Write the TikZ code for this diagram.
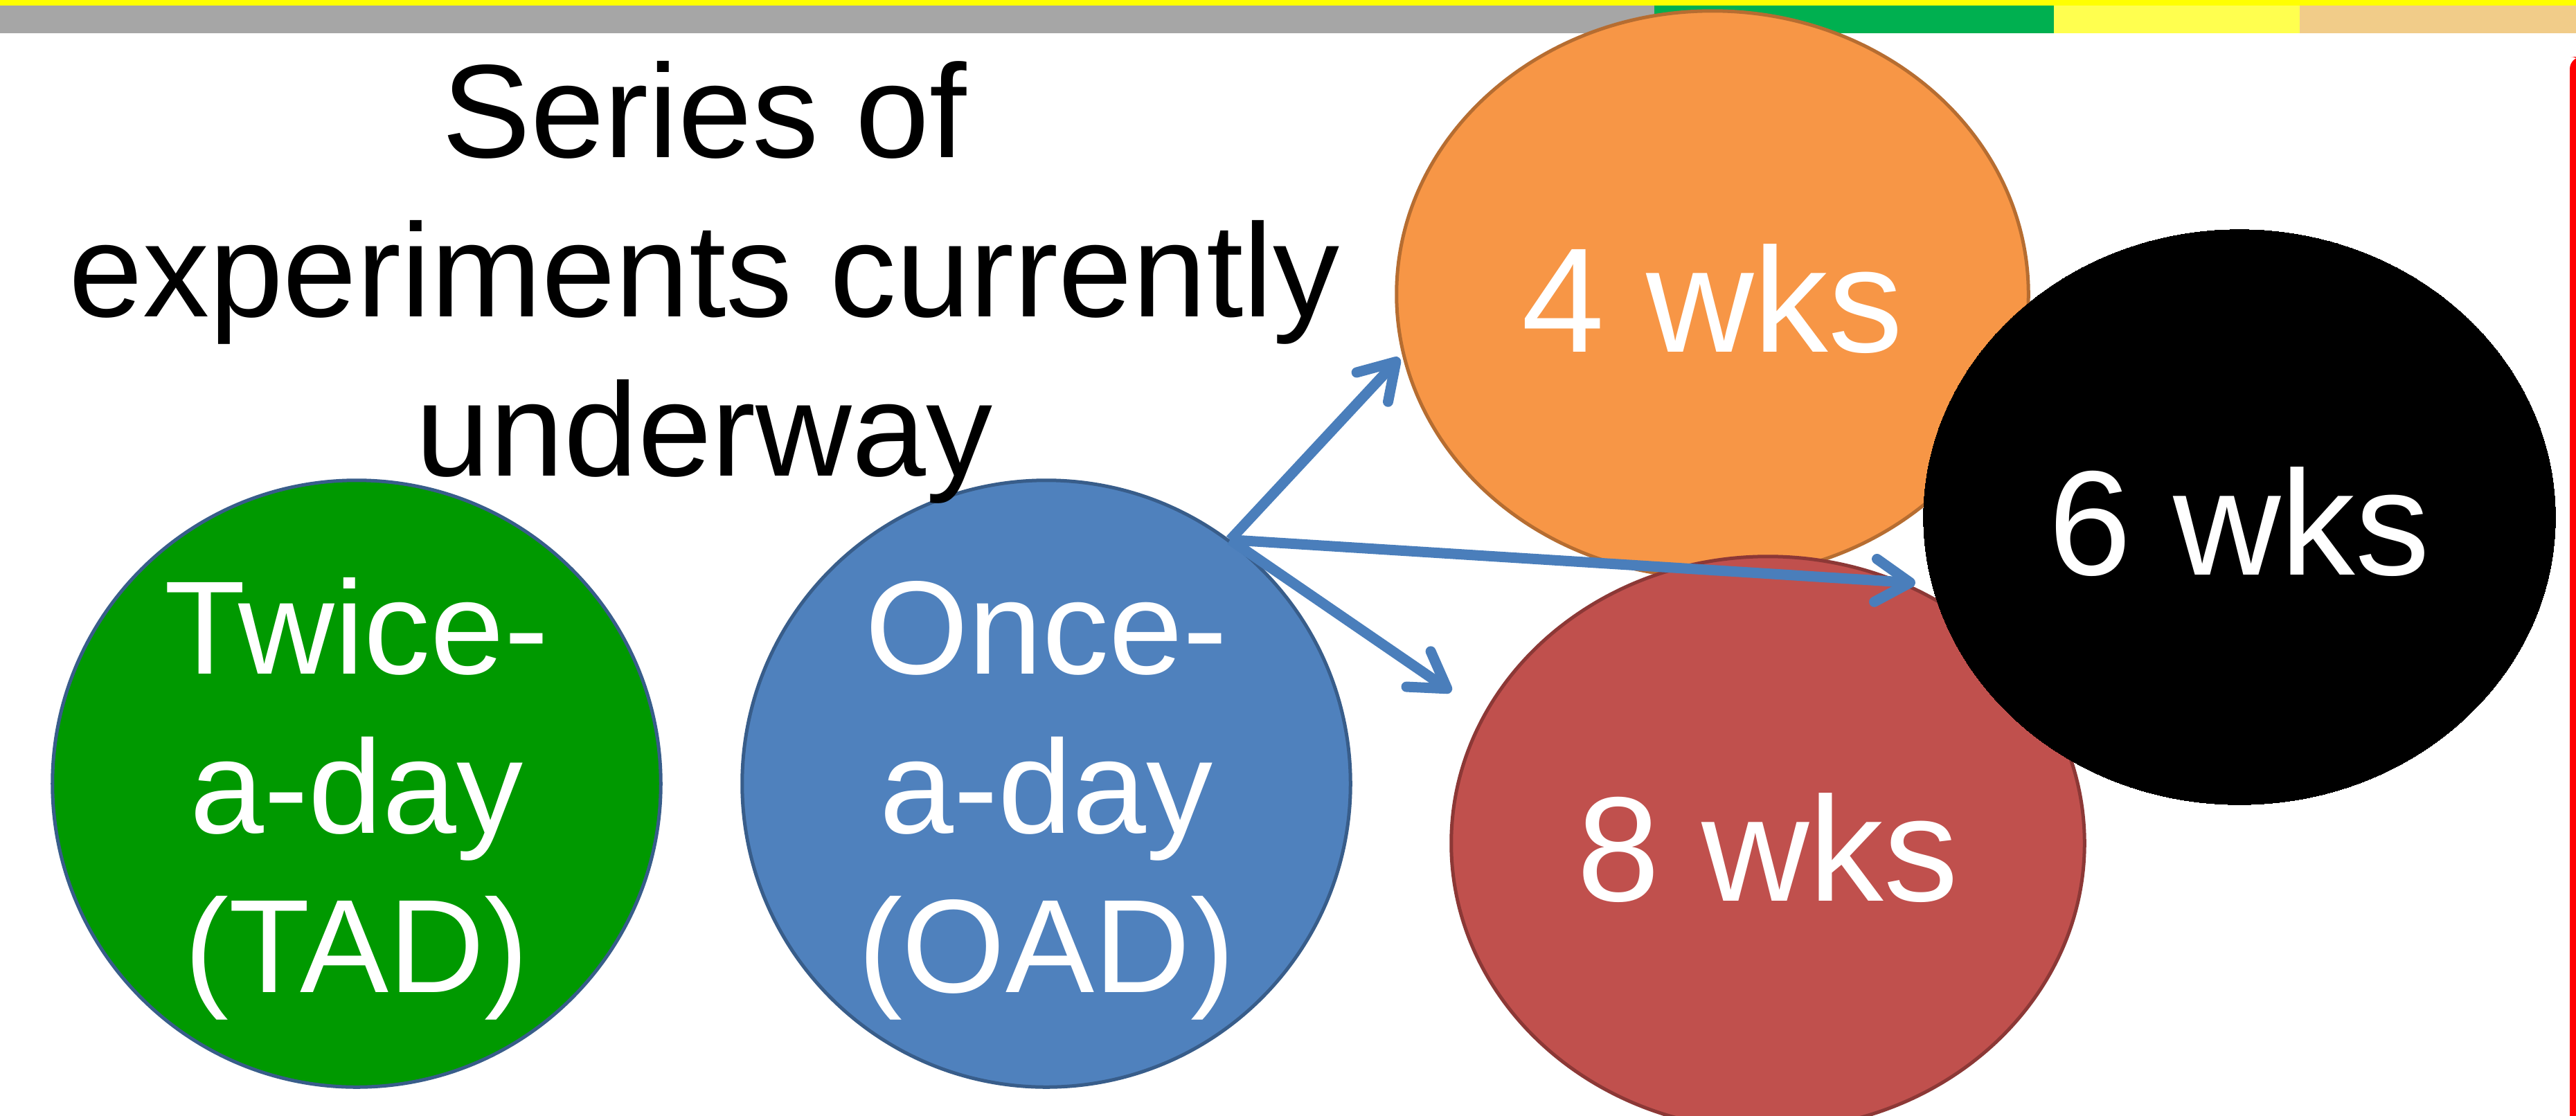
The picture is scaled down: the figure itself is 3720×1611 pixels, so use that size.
\documentclass[tikz,border=0pt]{standalone}
\usepackage{fontspec}
\setmainfont{Liberation Sans}
\usetikzlibrary{arrows.meta,shapes.geometric}
\definecolor{topyellow}{HTML}{FFFF00}
\definecolor{bargray}{HTML}{A6A6A6}
\definecolor{bargreen}{HTML}{00B050}
\definecolor{barlight}{HTML}{FFFF4F}
\definecolor{bartan}{HTML}{F1CC89}
\definecolor{tadgreen}{HTML}{009900}
\definecolor{edgeblue}{HTML}{385D8A}
\definecolor{oadblue}{HTML}{4F81BD}
\definecolor{wkorange}{HTML}{F79646}
\definecolor{edgeorange}{HTML}{B66D31}
\definecolor{wkred}{HTML}{C0504D}
\definecolor{edgered}{HTML}{8C3836}
\definecolor{arrowblue}{HTML}{4A7EBB}
\begin{document}
\begin{tikzpicture}[x=0.01cm,y=-0.01cm,
  bubble/.style={ellipse, line width=0.05cm, inner sep=0pt, text=white},
  lbl/.style={font=\fontsize{54.6pt}{65.4pt}\selectfont, text height=0cm, text depth=3.16cm},
  wks/.style={font=\fontsize{61.2pt}{73pt}\selectfont, text height=1.66cm, text depth=0cm},
  link/.style={draw=arrowblue, line width=0.15cm, -{Straight Barb[length=0.5cm,width=0.62cm,round]}}]
\useasboundingbox (0,0) rectangle (3720,1611);
\fill[white] (0,0) rectangle (3720,1611);
% top bars
\fill[topyellow] (0,0) rectangle (3720,8);
\fill[bargray] (0,8) rectangle (2389,48);
\fill[bargreen] (2389,8) rectangle (2966,48);
\fill[barlight] (2966,8) rectangle (3321,48);
\fill[bartan] (3321,8) rectangle (3720,48);
% right red bar
\fill[red, rounded corners=5pt] (3711,82) rectangle (3730,1640);
% left circles
\node[bubble, fill=tadgreen, draw=edgeblue, minimum width=8.78cm, minimum height=8.76cm, lbl] (tad) at (515,1132)
  {\begin{tabular}[t]{@{}c@{}}Twice-\\a-day\\(TAD)\end{tabular}};
\node[bubble, fill=oadblue, draw=edgeblue, minimum width=8.78cm, minimum height=8.76cm, lbl] (oad) at (1511,1132)
  {\begin{tabular}[t]{@{}c@{}}Once-\\a-day\\(OAD)\end{tabular}};
% title
\node[anchor=base, inner sep=0pt, font=\fontsize{54.6pt}{65.4pt}\selectfont] (title) at (1017,227.5)
  {\begin{tabular}[t]{@{}c@{}}Series of\\experiments currently\\underway\end{tabular}};
% durations
\node[bubble, fill=wkorange, draw=edgeorange, minimum width=9.12cm, minimum height=8.18cm, wks] (wk4) at (2473,425) {4 wks};
\node[bubble, fill=wkred, draw=edgered, minimum width=9.14cm, minimum height=8.28cm, wks] (wk8) at (2553,1218) {8 wks};
\node[bubble, fill=black, draw=black, line width=0pt, minimum width=9.12cm, minimum height=8.30cm, wks] (wk6) at (3234,747) {6 wks};
% arrows
\coordinate (t4) at (2021,517);
\coordinate (t6) at (2766,842);
\coordinate (t8) at (2096,999);
\draw[link] (oad.53) -- (t4);
\draw[link] (oad.53) -- (t6);
\draw[link] (oad.53) -- (t8);
\end{tikzpicture}
\end{document}
